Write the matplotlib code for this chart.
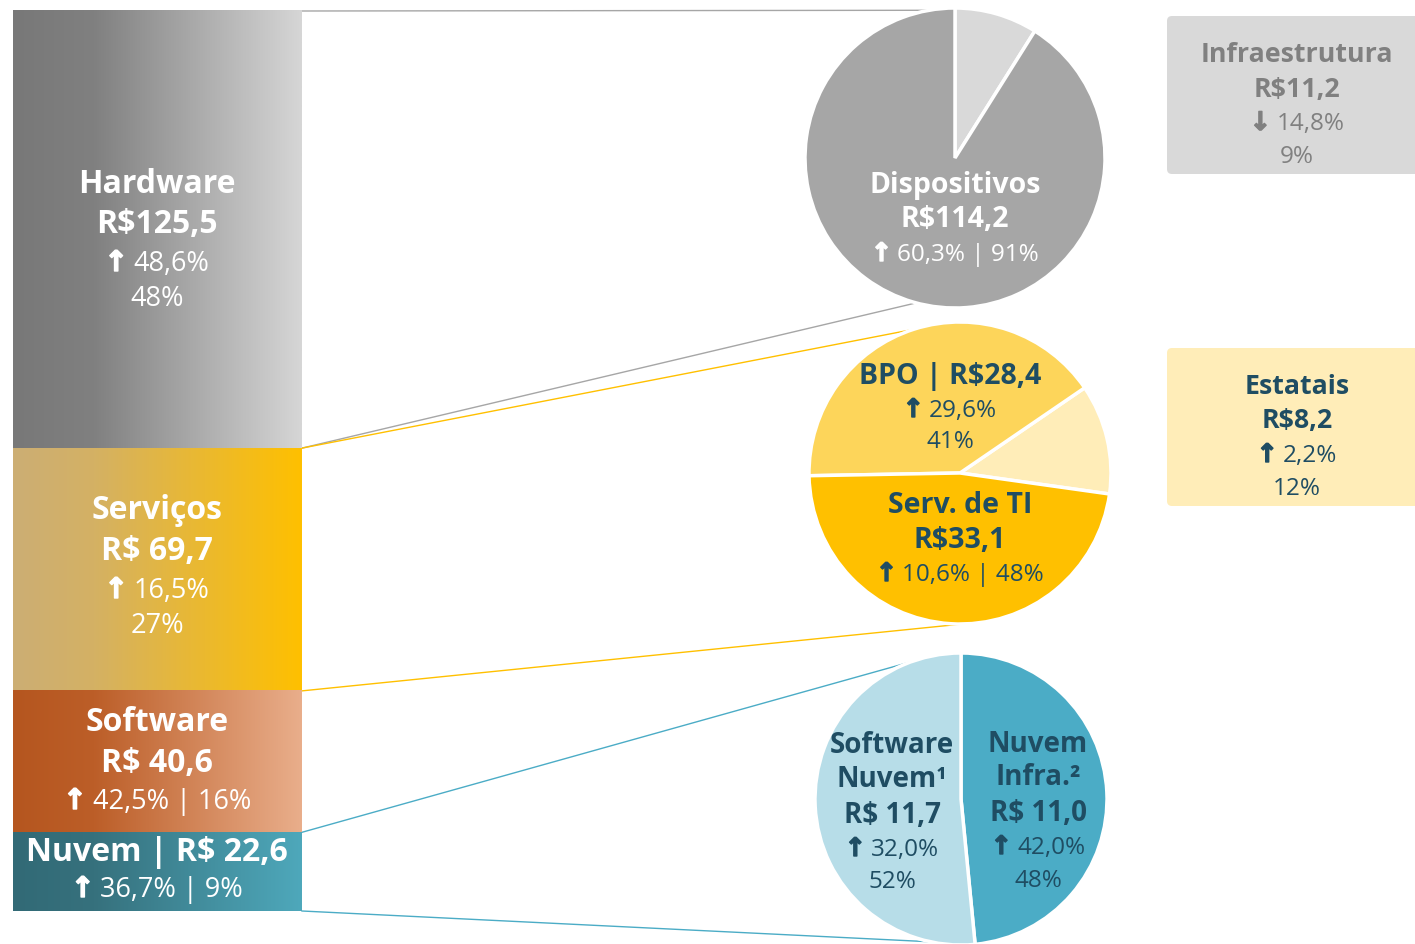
import numpy as np
import matplotlib.pyplot as plt
import matplotlib.patheffects as pe
from matplotlib.colors import LinearSegmentedColormap
from matplotlib.patches import FancyBboxPatch

plt.rcParams['font.family'] = ['Open Sans', 'DejaVu Sans']

# %% dados (R$ bilhoes)
segmentos = ['Hardware', 'Serviços', 'Software', 'Nuvem']
valores = [125.5, 69.7, 40.6, 22.6]
hardware_nomes = ['Infraestrutura', 'Dispositivos']
hardware_valores = [11.2, 114.2]
servicos_nomes = ['Estatais', 'BPO', 'Serv. de TI']
servicos_valores = [8.2, 28.4, 33.1]
nuvem_nomes = ['Nuvem Infra.', 'Software Nuvem']
nuvem_valores = [11.0, 11.7]

W, H = 1415, 945
azul = '#1F4D63'
fig = plt.figure(figsize=(W / 100, H / 100), dpi=100)
ax = fig.add_axes([0, 0, 1, 1])

# %% barra empilhada com gradiente
bar_x0, bar_x1 = 13, 302
bar_top, bar_bottom = H - 12, H - 912
escala = (bar_top - bar_bottom) / sum(valores)
gradientes = [['#787878', '#808080', '#D6D6D6'],
              ['#CCAE74', '#D4B164', '#FFC000'],
              ['#B5561F', '#BC5E28', '#E9AE8B'],
              ['#326A76', '#36717D', '#4EA8BB']]
alturas = np.array(valores) * escala
bases = bar_top - np.cumsum(alturas)
barras = ax.bar((bar_x0 + bar_x1) / 2, alturas, width=bar_x1 - bar_x0, bottom=bases,
                color='none', linewidth=0)
grad = np.linspace(0, 1, 256).reshape(1, -1)
for b, cores in zip(barras, gradientes):
    cmap = LinearSegmentedColormap.from_list('g', list(zip([0, 0.28, 1], cores)))
    ax.imshow(grad, cmap=cmap, aspect='auto', zorder=1,
              extent=[bar_x0, bar_x1, b.get_y(), b.get_y() + b.get_height()])

# %% pizzas
centros = [(955, H - 159), (960, H - 474), (961, H - 800)]
raios = [150, 151, 146]
cunha = dict(edgecolor='white', linewidth=2.5)
ax.pie(hardware_valores, colors=['#D9D9D9', '#A6A6A6'], center=centros[0], radius=raios[0],
       startangle=90, counterclock=False, wedgeprops=cunha)
ax.pie(servicos_valores, colors=['#FFEDB8', '#FDD55A', '#FFC000'], center=centros[1], radius=raios[1],
       startangle=-8, counterclock=True, wedgeprops=cunha)
ax.pie(nuvem_valores, colors=['#4BACC6', '#B7DDE8'], center=centros[2], radius=raios[2],
       startangle=90, counterclock=False, wedgeprops=cunha)

ax.set_xlim(0, W)
ax.set_ylim(0, H)
ax.set_aspect('auto')
ax.axis('off')

# %% linhas de conexao
conexoes = [(bar_top, 0, 100, '#A6A6A6'), (bases[0], 0, 255, '#A6A6A6'),
            (bases[0], 1, 94, '#FFC000'), (bases[1], 1, 271, '#FFC000'),
            (bases[2], 2, 110, '#4BACC6'), (bases[3], 2, 258, '#4BACC6')]
for y0, i, ang, cor in conexoes:
    cx, cy = centros[i]
    a = np.deg2rad(ang)
    ax.plot([bar_x1, cx + raios[i] * np.cos(a)], [y0, cy + raios[i] * np.sin(a)],
            color=cor, linewidth=1, zorder=0)

# %% caixas laterais
for y_top, cor in [(17, '#D9D9D9'), (349, '#FFEDB8')]:
    ax.add_patch(FancyBboxPatch((1167, H - y_top - 158), 270, 158,
                                boxstyle='round,pad=0,rounding_size=5',
                                facecolor=cor, edgecolor='none'))

# %% textos
renderer = fig.canvas.get_renderer()


def largura(t):
    return t.get_window_extent(renderer).width


def bloco(x, ys, linhas, cor):
    for y, (txt, peso, tam) in zip(ys, linhas):
        yy = H - y - 3
        if txt[0] in '↑↓':
            seta = ax.text(0, yy, txt[0], ha='left', va='center', color=cor, fontsize=tam * 1.05,
                           fontweight='bold', family='DejaVu Sans', zorder=5,
                           path_effects=[pe.withStroke(linewidth=1.0, foreground=cor)])
            resto = ax.text(0, yy, txt[2:], ha='left', va='center', color=cor,
                            fontsize=tam, fontweight=peso, zorder=5)
            ws, wr, gap = largura(seta), largura(resto), tam * 0.3
            x0 = x - (ws + gap + wr) / 2
            seta.set_x(x0)
            resto.set_x(x0 + ws + gap)
        else:
            ax.text(x, yy, txt, ha='center', va='center', color=cor,
                    fontsize=tam, fontweight=peso, zorder=5)


bloco(157, [182, 222, 261, 296], [('Hardware', 'bold', 23), ('R$125,5', 'bold', 23),
                                  ('↑ 48,6%', 'normal', 19.5), ('48%', 'normal', 19.5)], 'white')
bloco(157, [508, 549, 588, 623], [('Serviços', 'bold', 23), ('R$ 69,7', 'bold', 23),
                                  ('↑ 16,5%', 'normal', 19.5), ('27%', 'normal', 19.5)], 'white')
bloco(157, [720, 761, 799], [('Software', 'bold', 23), ('R$ 40,6', 'bold', 23),
                             ('↑ 42,5% | 16%', 'normal', 19.5)], 'white')
bloco(157, [850, 887], [('Nuvem | R$ 22,6', 'bold', 23), ('↑ 36,7% | 9%', 'normal', 19.5)], 'white')

bloco(955, [183, 217, 252], [('Dispositivos', 'bold', 20.5), ('R$114,2', 'bold', 20.5),
                             ('↑ 60,3% | 91%', 'normal', 17.5)], 'white')
bloco(950, [374, 408, 439], [('BPO | R$28,4', 'bold', 20.5), ('↑ 29,6%', 'normal', 17.5),
                             ('41%', 'normal', 17.5)], azul)
bloco(960, [503, 538, 572], [('Serv. de TI', 'bold', 20.5), ('R$33,1', 'bold', 20.5),
                             ('↑ 10,6% | 48%', 'normal', 17.5)], azul)
bloco(892, [743, 777, 813, 847, 879], [('Software', 'bold', 20), ('Nuvem¹', 'bold', 20),
                                       ('R$ 11,7', 'bold', 20), ('↑ 32,0%', 'normal', 17.5),
                                       ('52%', 'normal', 17.5)], azul)
bloco(1038, [742, 775, 811, 845, 878], [('Nuvem', 'bold', 20), ('Infra.²', 'bold', 20),
                                        ('R$ 11,0', 'bold', 20), ('↑ 42,0%', 'normal', 17.5),
                                        ('48%', 'normal', 17.5)], azul)

bloco(1297, [52, 87, 121, 154], [('Infraestrutura', 'bold', 19.3), ('R$11,2', 'bold', 19.3),
                                 ('↓ 14,8%', 'normal', 17.5), ('9%', 'normal', 17.5)], '#808080')
bloco(1297, [384, 418, 453, 486], [('Estatais', 'bold', 19.3), ('R$8,2', 'bold', 19.3),
                                   ('↑ 2,2%', 'normal', 17.5), ('12%', 'normal', 17.5)], azul)

fig.savefig('out.png', dpi=100)
